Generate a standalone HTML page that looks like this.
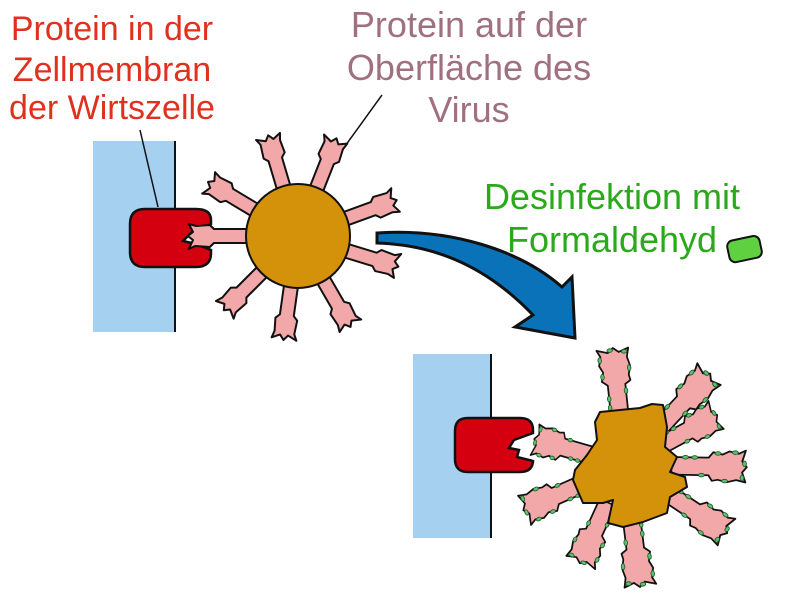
<!DOCTYPE html>
<html><head><meta charset="utf-8"><style>
body{margin:0;background:#fff}
svg{display:block}
text{font-family:"Liberation Sans",sans-serif;text-anchor:middle}
</style></head><body>
<svg width="792" height="610" viewBox="0 0 792 610">
<defs>
<polygon id="sp" points="45,-7 80,-7 84,-11 98,-10 104,-13 100,-4 105,0 100,4 104,12 97,10 84,11 80,7 45,7" fill="#f2a8a8" stroke="#111" stroke-width="2" stroke-linejoin="round"/>
<g id="sp2">
<polygon points="40,-8 72,-8 76,-13 84,-11 90,-14 98,-12 104,-15 101,-5 105,0 101,5 104,14 96,12 88,14 80,12 75,13 72,8 40,8" fill="#f2a8a8" stroke="#111" stroke-width="1.6" stroke-linejoin="round"/>
<g fill="#5fc070" stroke="#1d5a2a" stroke-width="0.8">
<ellipse cx="52" cy="-8" rx="2.5" ry="1.6"/><ellipse cx="66" cy="8" rx="2.5" ry="1.6"/>
<ellipse cx="80" cy="-12" rx="2.5" ry="1.6"/><ellipse cx="95" cy="-13" rx="2.5" ry="1.6"/>
<ellipse cx="103" cy="-3" rx="1.6" ry="2.5"/><ellipse cx="101" cy="10" rx="1.6" ry="2.5"/>
<ellipse cx="86" cy="13" rx="2.5" ry="1.6"/><ellipse cx="60" cy="-8" rx="2.5" ry="1.6"/>
</g></g>
</defs>

<g font-size="34" fill="#e0301e">
<text x="112" y="40">Protein in der</text>
<text x="112" y="81">Zellmembran</text>
<text x="112" y="119">der Wirtszelle</text>
</g>
<g font-size="36" fill="#a07080">
<text x="469" y="37">Protein auf der</text>
<text x="469" y="80">Oberfläche des</text>
<text x="469" y="122">Virus</text>
</g>
<g font-size="36" fill="#2aaa1a">
<text x="612" y="209">Desinfektion mit</text>
<text x="612" y="252">Formaldehyd</text>
</g>
<rect x="728" y="238" width="33" height="22" rx="6" fill="#5fd040" stroke="#111" stroke-width="2" transform="rotate(-12 745 249)"/>

<rect x="93" y="141" width="82" height="191" fill="#a6d0f0"/>
<line x1="175" y1="141" x2="175" y2="332" stroke="#111" stroke-width="2"/>
<path d="M145,209 H196 Q211,209 211,220 L211,224 L192,232 L183,241 L196,244 L211,250 L211,253 Q211,267 196,267 H145 Q130,267 130,252 V224 Q130,209 145,209 Z" fill="#d40010" stroke="#111" stroke-width="2.5"/>
<line x1="140" y1="130" x2="158" y2="207" stroke="#111" stroke-width="1.5"/>
<line x1="382" y1="95" x2="335" y2="160" stroke="#111" stroke-width="1.5"/>
<g transform="translate(298,236)">
<use href="#sp" transform="rotate(-106.5)"/>
<use href="#sp" transform="rotate(-68.5)"/>
<use href="#sp" transform="rotate(-149)"/>
<use href="#sp" transform="rotate(-20)"/>
<use href="#sp" transform="rotate(180) scale(1.05,1)"/>
<use href="#sp" transform="rotate(17)"/>
<use href="#sp" transform="rotate(135)"/>
<use href="#sp" transform="rotate(98)"/>
<use href="#sp" transform="rotate(60)"/>
<circle r="52" fill="#d4920a" stroke="#111" stroke-width="2"/>
</g>

<path d="M377,233 C450,228 520,250 562,287 L572,277 L575,338 L515,327 L533,315 C490,270 440,245 377,243 Z" fill="#0a72b8" stroke="#111" stroke-width="3" stroke-linejoin="miter"/>

<rect x="413" y="354" width="78" height="184" fill="#a6d0f0"/>
<line x1="491" y1="354" x2="491" y2="538" stroke="#111" stroke-width="2"/>
<path d="M468,418 H520 Q533,418 533,430 L533,433 L514,440 L509,448 L519,450 L517,457 L533,461 L533,460 Q533,472 520,472 H468 Q455,472 455,459 V431 Q455,418 468,418 Z" fill="#d40010" stroke="#111" stroke-width="2.5"/>
<g transform="translate(625,465)">
<use href="#sp2" transform="rotate(-96) scale(1.12,1.1)"/>
<use href="#sp2" transform="rotate(-47) scale(1.19,1.1)"/>
<use href="#sp2" transform="rotate(-28.5) scale(1.0,1.1)"/>
<use href="#sp2" transform="rotate(1) scale(1.16,1.1)"/>
<use href="#sp2" transform="rotate(33.7) scale(1.17,1.1)"/>
<use href="#sp2" transform="rotate(83) scale(1.17,1.1)"/>
<use href="#sp2" transform="rotate(114.7) scale(1.03,1.1)"/>
<use href="#sp2" transform="rotate(156) scale(1.06,1.1)"/>
<use href="#sp2" transform="rotate(196) scale(0.9,1.1)"/>
</g>
<polygon points="600,412 620,410 640,408 652,404 663,405 667,427 665,447 677,457 670,472 685,477 687,487 670,497 667,513 643,522 623,527 608,523 613,500 603,503 583,503 573,480 575,470 587,455 597,440 595,422" fill="#d4920a" stroke="#111" stroke-width="2" stroke-linejoin="round"/>
</svg>
</body></html>
